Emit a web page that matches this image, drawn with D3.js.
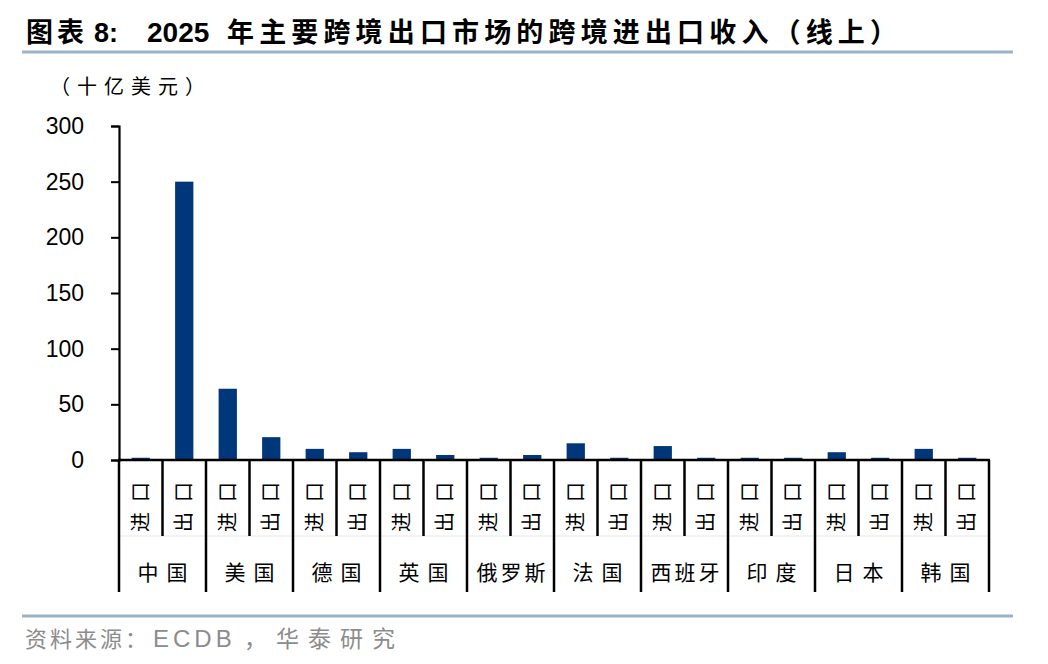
<!DOCTYPE html>
<html>
<head>
<meta charset="utf-8">
<script src="https://cdn.jsdelivr.net/npm/d3@7"></script>
<style>
  body { margin: 0; background: #fff; }
  svg { display: block; }
</style>
</head>
<body>
<div id="chart"></div>
<script>
// data (十亿美元)
const countries = ["中国", "美国", "德国", "英国", "俄罗斯", "法国", "西班牙", "印度", "日本", "韩国"];
const types = ["进口", "出口"];
const importVals = [2, 64, 10, 10, 2, 15, 12.5, 2, 7, 10];
const exportVals = [250, 20.5, 7, 4.5, 4.5, 2, 2, 2, 2, 2];
const yTicks = [0, 50, 100, 150, 200, 250, 300];

const titleParts = ["图表", "8:", "2025", "年主要跨境出口市场的跨境进出口收入（线上）"];
const unitText = "（十亿美元）";
const sourceParts = ["资料来源：", "ECDB", "，华泰研究"];

const W = 1048, H = 664;
const margin = {top: 126, right: 59, bottom: 204, left: 119},
    width = W - margin.left - margin.right,
    height = H - margin.top - margin.bottom;

const cjk = "'Noto Sans CJK SC', 'Noto Sans', sans-serif";
const latin = "'Liberation Sans', Arial, sans-serif";

// flatten to one row per bar
const rows = [];
countries.forEach(function(c, i) {
    rows.push({country: c, type: types[0], key: c + types[0], value: importVals[i]});
    rows.push({country: c, type: types[1], key: c + types[1], value: exportVals[i]});
});

const svgRoot = d3.select("#chart")
    .append("svg")
    .attr("width", W)
    .attr("height", H);

// title + rules
const title = svgRoot.append("text")
    .attr("y", 42)
    .style("font-weight", "bold")
    .style("fill", "#000");
title.append("tspan").attr("x", 26)
    .style("font-family", cjk).style("font-size", "27px").style("letter-spacing", "4px")
    .text(titleParts[0]);
title.append("tspan").attr("x", 94)
    .style("font-family", latin).style("font-size", "27px")
    .text(titleParts[1]);
title.append("tspan").attr("x", 147)
    .style("font-family", latin).style("font-size", "28px")
    .text(titleParts[2]);
title.append("tspan").attr("x", 227)
    .style("font-family", cjk).style("font-size", "27px")
    .attr("textLength", 670)
    .attr("lengthAdjust", "spacing")
    .text(titleParts[3]);

svgRoot.append("line")
    .attr("x1", 22).attr("x2", 1013)
    .attr("y1", 52).attr("y2", 52)
    .style("stroke", "#9cb2cc")
    .style("stroke-width", 3);

svgRoot.append("line")
    .attr("x1", 22).attr("x2", 1013)
    .attr("y1", 616).attr("y2", 616)
    .style("stroke", "#9cb2cc")
    .style("stroke-width", 3);

const source = svgRoot.append("text")
    .attr("y", 647)
    .style("fill", "#8c8c8c");
source.append("tspan").attr("x", 25)
    .style("font-family", cjk).style("font-size", "22px").style("letter-spacing", "3px")
    .text(sourceParts[0]);
source.append("tspan").attr("x", 153)
    .style("font-family", latin).style("font-size", "24px").style("letter-spacing", "4px")
    .text(sourceParts[1]);
source.append("tspan").attr("x", 244)
    .style("font-family", cjk).style("font-size", "23px").style("letter-spacing", "9px")
    .text(sourceParts[2]);

svgRoot.append("text")
    .attr("x", 50)
    .attr("y", 94)
    .style("font-family", cjk)
    .style("font-size", "20px")
    .style("fill", "#000")
    .style("letter-spacing", "7px")
    .text(unitText);

const svg = svgRoot.append("g")
    .attr("transform", `translate(${margin.left}, ${margin.top})`);

// scales
const x = d3.scaleBand()
    .domain(rows.map(d => d.key))
    .range([0, width])
    .paddingInner(0.58)
    .paddingOuter(0.29);

const y = d3.scaleLinear()
    .domain([0, 300])
    .range([height, 0]);

// Y axis
const yAxis = svg.append("g")
    .call(d3.axisLeft(y).tickValues(yTicks).tickSize(8).tickPadding(27));
yAxis.select(".domain").style("stroke-width", 2.2);
yAxis.selectAll(".tick line").style("stroke-width", 2);
yAxis.selectAll("text")
    .style("font-family", latin)
    .style("font-size", "23px")
    .style("fill", "#000");

// bars
svg.append("g")
    .selectAll("rect")
    .data(rows)
    .join("rect")
    .attr("x", d => x(d.key))
    .attr("width", x.bandwidth())
    .attr("y", d => y(d.value))
    .attr("height", d => height - y(d.value))
    .style("fill", "#00367a");

// category frame below the axis
const step = x.step();
const innerBottom = 76, outerBottom = 132;

svg.append("line")
    .attr("x1", 0).attr("x2", width)
    .attr("y1", height + innerBottom).attr("y2", height + innerBottom)
    .style("stroke", "#e6e6e6")
    .style("stroke-width", 1);

svg.append("g")
    .selectAll("line")
    .data(d3.range(rows.length + 1))
    .join("line")
    .attr("x1", i => i * step)
    .attr("x2", i => i * step)
    .attr("y1", height)
    .attr("y2", i => (i % 2 === 0 ? height + outerBottom : height + innerBottom))
    .style("stroke", "#000")
    .style("stroke-width", 2.5);

svg.append("line")
    .attr("x1", -1).attr("x2", width + 1)
    .attr("y1", height).attr("y2", height)
    .style("stroke", "#000")
    .style("stroke-width", 2.5);

// 进口 / 出口 rotated labels
svg.append("g")
    .selectAll("text")
    .data(rows)
    .join("text")
    .attr("transform", d => `translate(${x(d.key) + x.bandwidth() / 2 + 7}, ${height + 47}) rotate(-90)`)
    .attr("text-anchor", "middle")
    .attr("dx", 5)
    .style("font-family", cjk)
    .style("font-size", "20px")
    .style("letter-spacing", "10px")
    .style("fill", "#000")
    .text(d => d.type);

// country labels
svg.append("g")
    .selectAll("text")
    .data(countries)
    .join("text")
    .attr("x", (d, i) => (i * 2 + 1) * step)
    .attr("y", height + 120)
    .attr("text-anchor", "middle")
    .attr("dx", d => (d.length === 2 ? 4 : 2))
    .style("font-family", cjk)
    .style("font-size", "21px")
    .style("letter-spacing", d => (d.length === 2 ? "8px" : "3px"))
    .style("fill", "#000")
    .text(d => d);
</script>
</body>
</html>
